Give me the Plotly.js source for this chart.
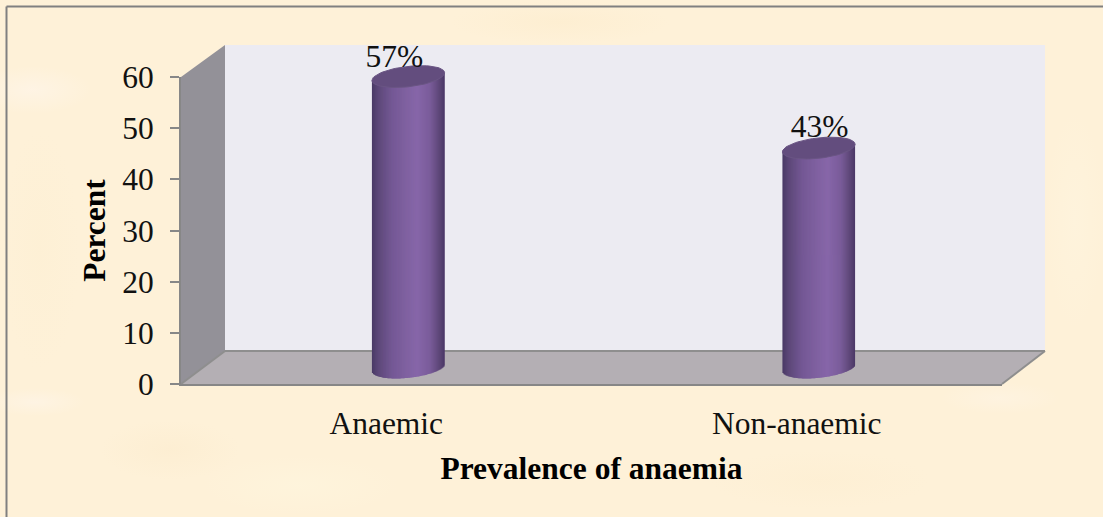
<!DOCTYPE html>
<html>
<head>
<meta charset="utf-8">
<script src="https://cdn.plot.ly/plotly-3.0.1.min.js"></script>
<style>
  html, body { margin: 0; padding: 0; }
  /* Mottled parchment backdrop behind the transparent chart */
  #chart {
    width: 1103px; height: 517px;
    background-color: #fef1d8;
    background-image:
      radial-gradient(ellipse 60px 24px at 32px 90px, rgba(255,246,238,.55), transparent),
      radial-gradient(ellipse 50px 14px at 35px 402px, rgba(255,246,238,.5), transparent),
      radial-gradient(ellipse 60px 16px at 1000px 398px, rgba(255,246,238,.35), transparent),
      radial-gradient(ellipse 70px 30px at 170px 450px, rgba(250,232,200,.35), transparent),
      radial-gradient(ellipse 110px 22px at 560px 22px, rgba(252,234,200,.4), transparent),
      radial-gradient(ellipse 100px 30px at 300px 485px, rgba(255,248,225,.4), transparent),
      radial-gradient(ellipse 110px 30px at 820px 480px, rgba(252,236,205,.35), transparent),
      radial-gradient(ellipse 30px 110px at 1075px 220px, rgba(255,246,226,.4), transparent),
      radial-gradient(ellipse 40px 120px at 40px 250px, rgba(252,238,208,.35), transparent);
  }
</style>
</head>
<body>
<div id="chart"></div>
<script>
// Chart data
const categories = ['Anaemic', 'Non-anaemic'];
const percentValues = [57, 43];
const yTicks = [0, 10, 20, 30, 40, 50, 60];

// Label nudges relative to the top of each cylinder, in axis units
const labelShiftX = [-0.034, 0.002];
const labelShiftY = [3.5, 3.8];

// Shading across the cylinder face, from left edge (-1) to right edge (+1)
const shadeStops = [-1, -0.82, -0.45, 0, 0.25, 0.6, 0.85, 1];
const shadeColors = ['#4a3a66', '#5d4879', '#745895', '#8162a2', '#8766a9', '#7a5c9a', '#5e4779', '#4b3866'];

// Chart geometry, in page pixels
const W = 1103, H = 517;
const front = {left: 181, right: 1002, bottom: 384, top: 77};
const back = {left: 225, right: 1045, bottom: 351, top: 45};
const depthX = 22, depthY = 16.5;              // the bars stand halfway along the floor
const yPerUnit = (front.bottom - front.top) / 60;
const midMin = -6, midMax = 72;                // room below and above the cylinders

// Cylinder proportions, in x-axis and y-axis units
const radius = 0.0885, capHeight = 2.0, capTilt = 0.75;
const stripCount = 72;

const fx = px => px / W;
const fy = px => 1 - px / H;

function hex(c) { return [1, 3, 5].map(i => parseInt(c.slice(i, i + 2), 16)); }
function shadeAt(u) {
  let i = 0;
  while (i < shadeStops.length - 2 && u > shadeStops[i + 1]) i++;
  const t = (u - shadeStops[i]) / (shadeStops[i + 1] - shadeStops[i]);
  const a = hex(shadeColors[i]), b = hex(shadeColors[i + 1]);
  return 'rgb(' + a.map((v, k) => Math.round(v + (b[k] - v) * t)).join(',') + ')';
}

const positions = categories.map((_, i) => i);
const traces = [];

// Carries the front axes, which hold the tick labels and titles
traces.push({
  type: 'scatter', mode: 'none', x: positions, y: percentValues,
  xaxis: 'x', yaxis: 'y', hoverinfo: 'skip', showlegend: false
});

// The bar itself, running from zero to the stated percentage
traces.push({
  type: 'bar', name: 'Percent', x: positions, y: percentValues,
  width: radius, marker: {color: '#8162a2'},
  xaxis: 'x2', yaxis: 'y2', hoverinfo: 'skip', showlegend: false
});

// Shaded strips wrapping the bar into a cylinder with a curved foot
const stripWidth = 2 / stripCount;
for (let s = 0; s < stripCount; s++) {
  const u = -1 + (s + 0.5) * stripWidth;
  const foot = capTilt * u - capHeight * Math.sqrt(1 - u * u);
  traces.push({
    type: 'bar', x: positions,
    base: percentValues.map(() => foot),
    y: percentValues.map(v => v + capTilt * u - foot),
    width: radius * stripWidth * (s === stripCount - 1 ? 1 : 1.9),
    offset: radius * (u - stripWidth * 0.5),
    marker: {color: shadeAt(u), line: {width: 0}},
    xaxis: 'x2', yaxis: 'y2', hoverinfo: 'skip', showlegend: false
  });
}

// Tilted elliptical caps on top of each cylinder
percentValues.forEach((v, i) => {
  const xs = [], ys = [];
  for (let a = 0; a <= 72; a++) {
    const t = a / 72 * 2 * Math.PI;
    xs.push(i + radius * Math.cos(t));
    ys.push(v + capTilt * Math.cos(t) + capHeight * Math.sin(t));
  }
  traces.push({
    type: 'scatter', mode: 'lines', x: xs, y: ys, fill: 'toself',
    fillcolor: '#634d7e', line: {color: '#6a5584', width: 1},
    xaxis: 'x2', yaxis: 'y2', hoverinfo: 'skip', showlegend: false
  });
});

// Percentage labels
traces.push({
  type: 'scatter', mode: 'text', cliponaxis: false,
  x: positions.map((p, i) => p + labelShiftX[i]),
  y: percentValues.map((v, i) => v + labelShiftY[i]),
  text: percentValues.map(v => v + '%'),
  textposition: 'middle center',
  textfont: {family: 'Liberation Serif', size: 31.5, color: '#111'},
  xaxis: 'x2', yaxis: 'y2', hoverinfo: 'skip', showlegend: false
});

const poly = pts => 'M' + pts.map(p => fx(p[0]) + ',' + fy(p[1])).join('L') + 'Z';
const wall = (pts, fill) => ({
  type: 'path', xref: 'paper', yref: 'paper', layer: 'below',
  path: poly(pts), fillcolor: fill, line: {width: 0}
});
const edge = (x0, y0, x1, y1, color) => ({
  type: 'line', xref: 'paper', yref: 'paper', layer: 'below',
  x0: fx(x0), y0: fy(y0), x1: fx(x1), y1: fy(y1),
  line: {color: color || '#8e8e8e', width: 2}
});

const shapes = [
  wall([[back.left, back.top], [back.right, back.top], [back.right, back.bottom], [back.left, back.bottom]], '#ecebf2'),
  wall([[front.left, front.top], [back.left, back.top], [back.left, back.bottom], [front.left, front.bottom]], '#939198'),
  wall([[front.left, front.bottom], [back.left, back.bottom], [back.right, back.bottom], [front.right, front.bottom]], '#b4afb4'),
  edge(back.left, back.bottom, back.right, back.bottom),
  edge(back.left, back.bottom, front.left, front.bottom),
  edge(back.right, back.bottom, front.right, front.bottom),
  edge(6.5, 6.5, W, 6.5, '#808080'),
  edge(6.5, 6.5, 6.5, H, '#808080')
];

const axisGrey = '#878787';
const tickFont = {family: 'Liberation Serif', size: 31.5, color: '#111'};
const titleFont = {family: 'Liberation Serif', size: 31.5, color: '#000'};

const layout = {
  width: W, height: H,
  margin: {l: 0, r: 0, t: 0, b: 0},
  paper_bgcolor: 'rgba(0,0,0,0)',
  plot_bgcolor: 'rgba(0,0,0,0)',
  barmode: 'overlay',
  showlegend: false,
  shapes: shapes,
  xaxis: {
    domain: [fx(front.left), fx(front.right)], anchor: 'y',
    range: [-0.5, 1.5], tickmode: 'array', tickvals: positions, ticktext: categories,
    ticks: '', showgrid: false, zeroline: false, showline: true,
    linecolor: axisGrey, linewidth: 2, tickfont: tickFont, ticklabelstandoff: 10,
    title: {text: '<b>Prevalence of anaemia</b>', font: titleFont, standoff: 17}
  },
  yaxis: {
    domain: [fy(front.bottom), fy(front.top)], anchor: 'x',
    range: [0, 60], tickmode: 'array', tickvals: yTicks,
    ticks: 'outside', ticklen: 9, tickwidth: 2, tickcolor: axisGrey,
    showgrid: false, zeroline: false, showline: true,
    linecolor: axisGrey, linewidth: 2, tickfont: tickFont, ticklabelstandoff: 10,
    title: {text: '<b>Percent</b>', font: titleFont, standoff: 7}
  },
  // Plane through the middle of the floor, where the cylinders stand
  xaxis2: {
    domain: [fx(front.left + depthX), fx(front.right + depthX)], anchor: 'y2',
    range: [-0.5, 1.5], visible: false, fixedrange: true
  },
  yaxis2: {
    domain: [
      fy(front.bottom - depthY - midMin * yPerUnit),
      fy(front.bottom - depthY - midMax * yPerUnit)
    ],
    anchor: 'x2', range: [midMin, midMax], visible: false, fixedrange: true
  }
};

Plotly.newPlot('chart', traces, layout, {displayModeBar: false, staticPlot: true});
</script>
</body>
</html>
